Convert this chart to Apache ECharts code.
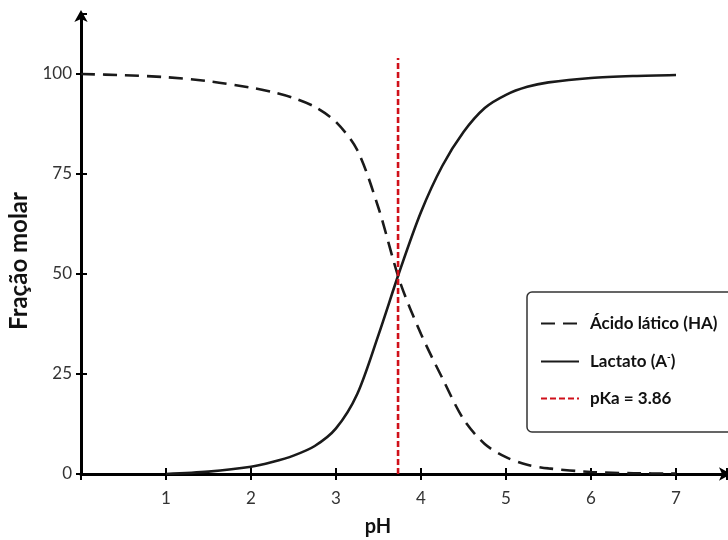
<!DOCTYPE html>
<html>
<head>
<meta charset="utf-8">
<script src="https://cdn.jsdelivr.net/npm/echarts@6/dist/echarts.min.js"></script>
<style>html,body{margin:0;padding:0;background:#fff}#c{width:728px;height:540px}</style>
</head>
<body>
<div id="c"></div>
<script>
// Data
const haX = [0, 0.5, 1, 1.5, 2, 2.25, 2.5, 2.75, 3, 3.25, 3.5, 3.75, 4, 4.25, 4.5, 4.75, 5, 5.25, 5.5, 6, 6.5, 7];
const haY = [100, 99.7, 99.2, 98.2, 96.6, 95.5, 94.0, 91.8, 88, 81, 66.5, 48.2, 35, 24, 13.7, 7.5, 4.2, 2.3, 1.4, 0.5, 0.2, 0.1];
const aX = [1, 1.5, 2, 2.25, 2.5, 2.75, 3, 3.25, 3.5, 3.75, 4, 4.25, 4.5, 4.75, 5, 5.25, 5.5, 6, 6.5, 7];
const aY = [0, 0.6, 1.8, 3, 4.6, 7, 11.4, 20, 34.8, 50.8, 65.5, 77, 85.5, 91.5, 94.8, 96.8, 97.9, 99, 99.5, 99.75];
const pkaX = [3.73, 3.73];
const pkaY = [0, 104];
const xTicks = [1, 2, 3, 4, 5, 6, 7];
const yTicks = [0, 25, 50, 75, 100];
const seriesNames = ['Ácido lático (HA)', 'Lactato (A⁻)', 'pKa = 3.86'];

const zip = (xs, ys) => xs.map((x, i) => [x, ys[i]]);
const FONT = 'Lato, "Open Sans", sans-serif';

const chart = echarts.init(document.getElementById('c'));
const baseX = {
  type: 'value', min: 0, max: 7.6, interval: 1,
  splitLine: { show: false }
};
const baseY = {
  type: 'value', min: 0, max: 115, interval: 25,
  splitLine: { show: false }
};
chart.setOption({
  backgroundColor: '#fff',
  animation: false,
  grid: { left: 81, right: 1, top: 14, bottom: 66, outerBoundsMode: 'none', containLabel: false },
  xAxis: [
    Object.assign({}, baseX, {
      axisLine: { show: true, lineStyle: { color: '#000', width: 3 }, symbol: ['none', 'arrow'], symbolSize: [10, 12], symbolOffset: [0, 4] },
      axisTick: { show: true, length: 6, lineStyle: { color: '#000', width: 2 } },
      axisLabel: { color: '#333', fontSize: 17, fontFamily: FONT, margin: 16,
        formatter: v => xTicks.includes(v) ? String(v) : '' },
      name: 'pH', nameLocation: 'middle', nameGap: 43,
      nameTextStyle: { color: '#111', fontSize: 20, fontWeight: 'bold', fontFamily: FONT, padding: [0, 52, 0, 0] }
    }),
    Object.assign({}, baseX, {
      position: 'bottom',
      axisLine: { show: false },
      axisTick: { show: true, inside: true, length: 6, lineStyle: { color: '#000', width: 2 } },
      axisLabel: { show: false }
    })
  ],
  yAxis: [
    Object.assign({}, baseY, {
      axisLine: { show: true, lineStyle: { color: '#000', width: 3 }, symbol: ['none', 'arrow'], symbolSize: [10, 12], symbolOffset: [0, 4] },
      axisTick: { show: true, length: 5, lineStyle: { color: '#000', width: 2 } },
      axisLabel: { color: '#333', fontSize: 17, fontFamily: FONT, margin: 9, showMaxLabel: false,
        formatter: v => yTicks.includes(v) ? String(v) : '' },
      name: 'Fração molar', nameLocation: 'middle', nameGap: 44, nameRotate: 90,
      nameTextStyle: { color: '#111', fontSize: 24, fontWeight: 'bold', fontFamily: FONT, padding: [0, 34, 0, 0] }
    }),
    Object.assign({}, baseY, {
      position: 'left',
      axisLine: { show: false },
      axisTick: { show: true, inside: true, length: 6, lineStyle: { color: '#000', width: 2 } },
      axisLabel: { show: false }
    })
  ],
  legend: {
    left: 527, top: 292,
    orient: 'vertical',
    data: seriesNames,
    itemWidth: 38, itemHeight: 14, itemGap: 20,
    padding: [23, 50, 25, 13],
    backgroundColor: '#fff',
    borderColor: '#333', borderWidth: 1.5, borderRadius: 5,
    itemStyle: { opacity: 0 },
    textStyle: { color: '#111', fontSize: 17, fontWeight: 'bold', fontFamily: FONT, padding: [0, 0, 0, 6],
      rich: { sup: { fontSize: 10, fontWeight: 'bold', verticalAlign: 'top', padding: [0, 0, 9, 0], fontFamily: FONT, color: '#111' } } },
    formatter: n => n === 'Lactato (A⁻)' ? 'Lactato (A{sup|-})' : n
  },
  series: [
    {
      name: seriesNames[0], type: 'line', data: zip(haX, haY),
      smooth: 0.3, symbol: 'none',
      lineStyle: { color: '#1a1a1a', width: 2.6, type: [14, 8] },
      itemStyle: { color: '#1a1a1a' }
    },
    {
      name: seriesNames[1], type: 'line', data: zip(aX, aY),
      smooth: 0.3, symbol: 'none',
      lineStyle: { color: '#1a1a1a', width: 2.6 },
      itemStyle: { color: '#1a1a1a' }
    },
    {
      name: seriesNames[2], type: 'line', data: zip(pkaX, pkaY),
      symbol: 'none', z: 5,
      lineStyle: { color: '#d0101a', width: 2.6, type: [6, 3] },
      itemStyle: { color: '#d0101a' }
    }
  ]
});
</script>
</body>
</html>
